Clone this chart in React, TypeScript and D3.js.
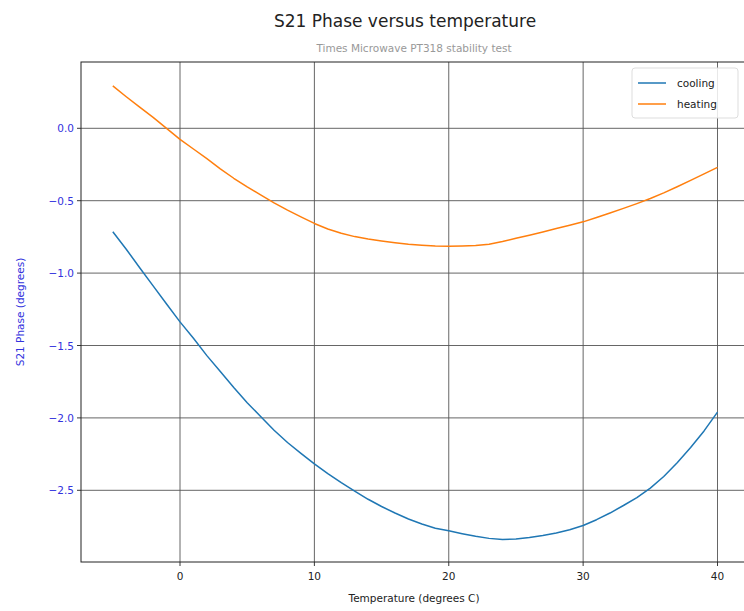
import React from "react";
import * as d3 from "d3";

const temps = [-5,-4,-3,-2,-1,0,1,2,3,4,5,6,7,8,9,10,11,12,13,14,15,16,17,18,19,20,21,22,23,24,25,26,27,28,29,30,31,32,33,34,35,36,37,38,39,40];
const cooling = [-0.715,-0.835,-0.963,-1.088,-1.213,-1.337,-1.45,-1.57,-1.68,-1.79,-1.895,-1.99,-2.085,-2.17,-2.245,-2.317,-2.385,-2.447,-2.505,-2.562,-2.612,-2.657,-2.698,-2.733,-2.762,-2.78,-2.80,-2.818,-2.832,-2.84,-2.836,-2.826,-2.812,-2.795,-2.772,-2.743,-2.703,-2.657,-2.605,-2.55,-2.485,-2.405,-2.31,-2.205,-2.09,-1.96];
const heating = [0.293,0.218,0.146,0.075,0.0,-0.076,-0.143,-0.21,-0.28,-0.345,-0.405,-0.46,-0.515,-0.565,-0.612,-0.657,-0.695,-0.725,-0.748,-0.765,-0.778,-0.79,-0.80,-0.807,-0.812,-0.814,-0.812,-0.81,-0.80,-0.782,-0.76,-0.738,-0.716,-0.692,-0.67,-0.646,-0.616,-0.585,-0.553,-0.52,-0.485,-0.446,-0.404,-0.36,-0.315,-0.27];
const xTicks = [0, 10, 20, 30, 40];
const yTicks = [0.0, -0.5, -1.0, -1.5, -2.0, -2.5];
const seriesNames = ["cooling", "heating"];
const seriesColors = ["#1f77b4", "#ff7f0e"];

const W = 744, H = 611;
const L = 81, R = 747, T = 62, B = 562;

export default function App() {
  const x = d3.scaleLinear().domain([0, 40]).range([180, 717.5]);
  const y = d3.scaleLinear().domain([0.0, -2.5]).range([128.3, 490.3]);
  const line = d3.line<number>().x((_, i) => x(temps[i])).y((d) => y(d));
  const series = [cooling, heating];
  const font = "DejaVu Sans, sans-serif";
  const fmt = (v: number) => (v < 0 ? "\u2212" : "") + Math.abs(v).toFixed(1);
  return (
    <svg width={W} height={H} style={{ position: "absolute", left: 0, top: 0, background: "#fff" }} fontFamily={font}>
      <rect x={0} y={0} width={W} height={H} fill="#fff" />
      <text x={405} y={27} textAnchor="middle" fontSize={17} fill="#222">S21 Phase versus temperature</text>
      <text x={414} y={52} textAnchor="middle" fontSize={10.5} fill="#999">Times Microwave PT318 stability test</text>
      <defs>
        <clipPath id="clip"><rect x={L} y={T} width={R - L} height={B - T} /></clipPath>
      </defs>
      {xTicks.map((t) => (
        <g key={"x" + t}>
          <line x1={x(t)} x2={x(t)} y1={T} y2={B} stroke="#555" strokeWidth={0.9} />
          <line x1={x(t)} x2={x(t)} y1={B} y2={B + 4} stroke="#222" strokeWidth={0.9} />
          <text x={x(t)} y={B + 18} textAnchor="middle" fontSize={10.5} fill="#222">{t}</text>
        </g>
      ))}
      {yTicks.map((t) => (
        <g key={"y" + t}>
          <line x1={L} x2={R} y1={y(t)} y2={y(t)} stroke="#555" strokeWidth={0.9} />
          <line x1={L - 4} x2={L} y1={y(t)} y2={y(t)} stroke="#222" strokeWidth={0.9} />
          <text x={L - 7} y={y(t) + 4} textAnchor="end" fontSize={10.5} fill="#3333dd">{fmt(t)}</text>
        </g>
      ))}
      <g clipPath="url(#clip)">
        {series.map((s, i) => (
          <path key={i} d={line(s) || ""} fill="none" stroke={seriesColors[i]} strokeWidth={1.5} strokeLinejoin="round" />
        ))}
      </g>
      <rect x={L} y={T} width={R - L} height={B - T} fill="none" stroke="#222" strokeWidth={1} />
      <text x={414} y={602} textAnchor="middle" fontSize={10.5} fill="#222">Temperature (degrees C)</text>
      <text transform={`translate(24,${(T + B) / 2}) rotate(-90)`} textAnchor="middle" fontSize={10.5} fill="#3333dd">S21 Phase (degrees)</text>
      <g>
        <rect x={632} y={68} width={106} height={50} rx={3} fill="#fff" fillOpacity={0.85} stroke="#ddd" strokeWidth={1} />
        {seriesNames.map((n, i) => (
          <g key={n}>
            <line x1={638} x2={666} y1={83 + i * 21} y2={83 + i * 21} stroke={seriesColors[i]} strokeWidth={1.5} />
            <text x={677} y={87 + i * 21} fontSize={10.5} fill="#222">{n}</text>
          </g>
        ))}
      </g>
    </svg>
  );
}
